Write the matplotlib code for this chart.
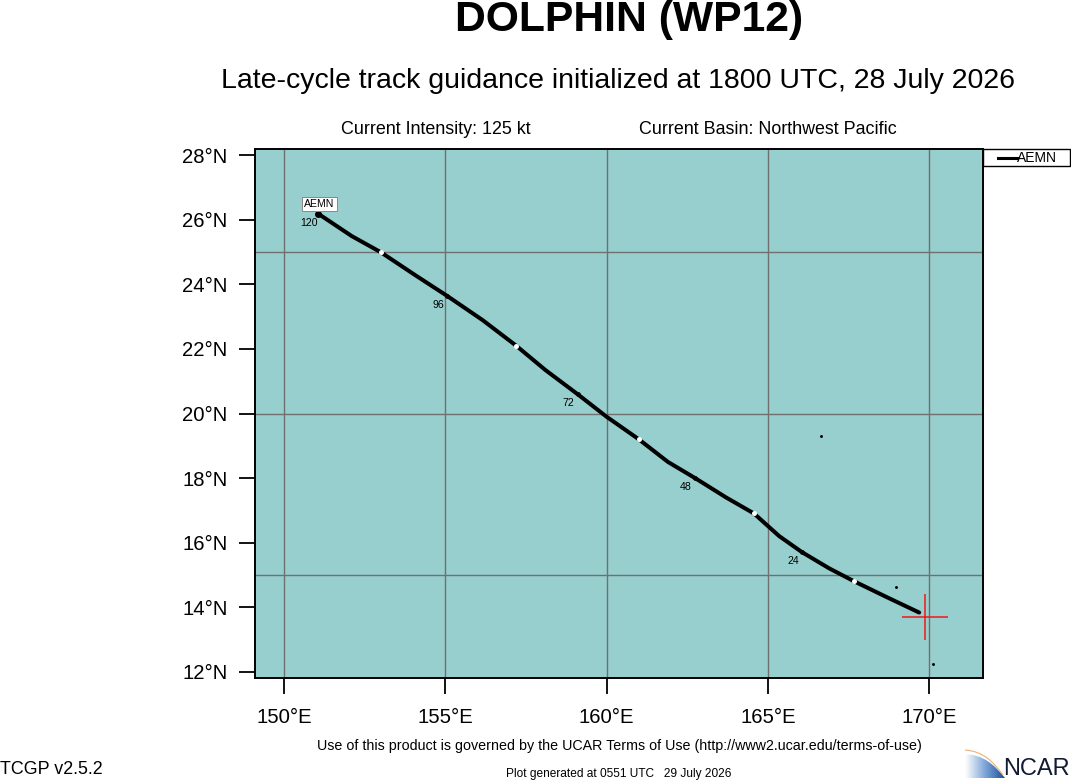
import numpy as np
import matplotlib
matplotlib.use("Agg")
import matplotlib.pyplot as plt
from matplotlib.path import Path
from matplotlib.patches import PathPatch, Rectangle
from matplotlib.lines import Line2D

plt.rcParams['font.family'] = ['Liberation Sans', 'DejaVu Sans']

# AEMN track, every 6 h from 0 to 120
track_hours = np.arange(0, 126, 6)
track_lon = [169.69, 168.7, 167.67, 166.9, 166.06, 165.35, 164.57, 163.7, 162.74, 161.9, 161.0,
             160.0, 159.1, 158.1, 157.2, 156.15, 155.05, 154.05, 153.0, 152.1, 151.05]
track_lat = [13.83, 14.3, 14.8, 15.2, 15.7, 16.2, 16.9, 17.4, 18.0, 18.5, 19.2,
             19.9, 20.6, 21.35, 22.1, 22.9, 23.65, 24.3, 25.0, 25.5, 26.2]

storm_lon = 169.88
storm_lat = 13.7

# little islands
island_lon = [166.65, 168.98, 170.12]
island_lat = [19.3, 14.63, 12.24]

lon_ticks = [150, 155, 160, 165, 170]
lat_ticks = [12, 14, 16, 18, 20, 22, 24, 26, 28]
grid_lat = [15, 20, 25]

W, H = 1071, 780
fig = plt.figure(figsize=(W / 100, H / 100), dpi=100)
ax = fig.add_axes([255 / W, 1 - 678 / H, 728 / W, 529 / H])
ax.set_facecolor('#97cfce')
ax.set_xlim(149.1, 171.67)
ax.set_ylim(11.8, 28.2)

ax.set_xticks(lon_ticks)
ax.set_xticklabels(['%d°E' % v for v in lon_ticks])
ax.set_yticks(lat_ticks)
ax.set_yticklabels(['%d°N' % v for v in lat_ticks])
ax.tick_params(length=11.3, width=1.3, labelsize=14.6)
ax.tick_params(axis='x', pad=10)
ax.tick_params(axis='y', pad=8.5)
for s in ax.spines.values():
    s.set_linewidth(1.4)
    s.set_color('k')

for v in lon_ticks:
    ax.axvline(v, color='#707070', lw=1, zorder=1)
for v in grid_lat:
    ax.axhline(v, color='#707070', lw=1, zorder=1)

ax.plot(island_lon, island_lat, ls='none', marker='.', ms=2.2, color='k', zorder=2)

ax.plot(track_lon, track_lat, color='k', lw=2.9, solid_capstyle='round', zorder=3)
ax.plot(track_lon[-1], track_lat[-1], 'o', color='k', ms=4, zorder=3)

# white dots at 12, 36, 60, 84, 108 and labels every 24 h
for h, lo, la in zip(track_hours, track_lon, track_lat):
    if h % 24 == 12:
        ax.plot(lo, la, 'o', color='white', ms=3.6, mew=0, zorder=4)
    elif h % 24 == 0 and h > 0:
        ax.plot(lo, la, 'o', color='k', ms=3.4, mew=0, zorder=3)
        ax.annotate(str(h), (lo, la), xytext=(-6.5, -6.6), textcoords='offset points',
                    ha='center', va='center', fontsize=7.6, zorder=5)

ax.plot(storm_lon, storm_lat, marker='+', ms=33, mew=1.1, color='#f01818', zorder=5)

ax.annotate('AEMN', (track_lon[-1], track_lat[-1]), xytext=(1, 3.5), textcoords='offset points',
            ha='center', va='bottom', fontsize=7.6, zorder=6,
            bbox=dict(boxstyle='square,pad=0.2', fc='white', ec='#888888', lw=0.7))

# legend box sits outside the map
fig.add_artist(Rectangle((983 / W, 1 - 166 / H), 87 / W, 17 / H, transform=fig.transFigure,
                         fc='white', ec='k', lw=1))
fig.add_artist(Line2D([998 / W, 1017 / W], [1 - 158 / H] * 2, color='k', lw=2.2))
fig.text(1017 / W, 1 - 158 / H, 'AEMN', fontsize=10, va='center', ha='left')

fig.text(629 / W, 1 - 20 / H, 'DOLPHIN (WP12)', fontsize=30.7, fontweight='bold', ha='center', va='center')
fig.text(618.5 / W, 1 - 81 / H, 'Late-cycle track guidance initialized at 1800 UTC, 28 July 2026',
         fontsize=20.5, ha='center', va='center')
fig.text(436 / W, 1 - 129 / H, 'Current Intensity: 125 kt', fontsize=12.9, ha='center', va='center')
fig.text(768 / W, 1 - 129 / H, 'Current Basin: Northwest Pacific', fontsize=12.9, ha='center', va='center')
fig.text(619 / W, 1 - 746 / H, 'Use of this product is governed by the UCAR Terms of Use (http://www2.ucar.edu/terms-of-use)',
         fontsize=10.3, ha='center', va='center')
fig.text(0, 1 - 770 / H, 'TCGP v2.5.2', fontsize=12.9, ha='left', va='center')
fig.text(619 / W, 1 - 774 / H, 'Plot generated at 0551 UTC   29 July 2026', fontsize=8.6, ha='center', va='center')

# NCAR logo
logo = fig.add_axes([965 / W, 1 - 778 / H, 40 / W, 28 / H])
logo.axis('off')
logo.set_xlim(0, 1)
logo.set_ylim(0, 1)
grad = np.linspace(0, 1, 64).reshape(1, -1)
cmap = matplotlib.colors.LinearSegmentedColormap.from_list('logo', ['white', '#7fa6d8', '#1c4f9c'])
im = logo.imshow(grad, extent=[0, 1, 0, 1], aspect='auto', cmap=cmap, zorder=1)
verts = [(0.0, 0.85), (0.45, 0.85), (0.75, 0.45), (1.0, 0.0), (0.0, 0.0), (0.0, 0.85)]
codes = [Path.MOVETO, Path.CURVE4, Path.CURVE4, Path.CURVE4, Path.LINETO, Path.CLOSEPOLY]
clip = PathPatch(Path(verts, codes), transform=logo.transData, fc='none', ec='none')
logo.add_patch(clip)
im.set_clip_path(clip)
arc = Path([(0.0, 1.0), (0.45, 0.95), (0.7, 0.6), (0.95, 0.1)], [Path.MOVETO, Path.CURVE4, Path.CURVE4, Path.CURVE4])
logo.add_patch(PathPatch(arc, fc='none', ec='#f0b070', lw=0.8, transform=logo.transData, clip_on=False))
fig.text(1003 / W, 1 - 769 / H, 'NCAR', fontsize=17, color='#101a30', ha='left', va='center')

fig.savefig('out.png', dpi=100)
